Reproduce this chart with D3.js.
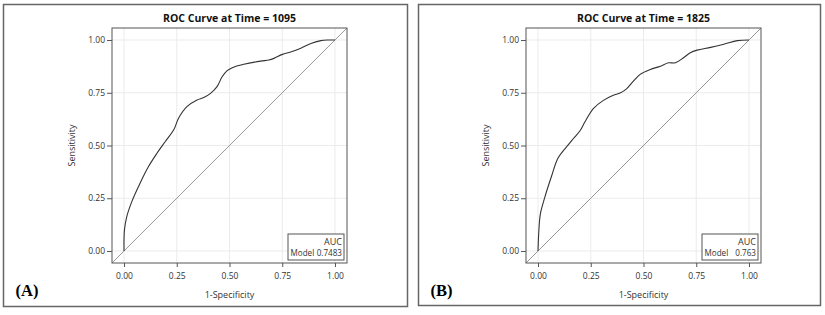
<!DOCTYPE html>
<html>
<head>
<meta charset="utf-8">
<script src="https://cdn.jsdelivr.net/npm/d3@7"></script>
<style>
  body { margin: 0; background: #fff; }
  text { font-family: "Open Sans", sans-serif; fill: #333; }
</style>
</head>
<body>
<div id="plots"></div>
<script>
// window size
var width = 825;
var height = 315;

// ROC data, panel A (time = 1095)
var fprA = [0, 0.002, 0.013, 0.037, 0.076, 0.116, 0.156, 0.195, 0.235, 0.259, 0.298, 0.346, 0.378, 0.41, 0.441, 0.465, 0.489, 0.513, 0.568, 0.648, 0.687, 0.711, 0.751, 0.79, 0.838, 0.886, 0.933, 0.965, 1.0];
var tprA = [0, 0.10, 0.163, 0.234, 0.321, 0.40, 0.463, 0.518, 0.573, 0.630, 0.684, 0.716, 0.727, 0.747, 0.779, 0.826, 0.855, 0.869, 0.885, 0.90, 0.905, 0.913, 0.932, 0.943, 0.961, 0.984, 0.997, 1.0, 1.0];

// ROC data, panel B (time = 1825)
var fprB = [0, 0.003, 0.011, 0.032, 0.064, 0.095, 0.143, 0.167, 0.2, 0.222, 0.262, 0.31, 0.357, 0.389, 0.421, 0.452, 0.484, 0.532, 0.58, 0.619, 0.651, 0.69, 0.722, 0.754, 0.818, 0.881, 0.945, 1.0];
var tprB = [0, 0.079, 0.175, 0.254, 0.354, 0.441, 0.503, 0.532, 0.571, 0.611, 0.675, 0.714, 0.738, 0.749, 0.77, 0.805, 0.837, 0.86, 0.876, 0.892, 0.892, 0.916, 0.94, 0.952, 0.965, 0.98, 0.997, 1.0];

// tick values and labels
var tickValues = [0, 0.25, 0.5, 0.75, 1];
var tickLabels = ["0.00", "0.25", "0.50", "0.75", "1.00"];

// panel texts
var titles = ["ROC Curve at Time = 1095", "ROC Curve at Time = 1825"];
var aucValues = ["0.7483", "0.763"];
var panelTags = ["(A)", "(B)"];

var svg = d3.select("#plots")
  .append("svg")
  .attr("width", width)
  .attr("height", height);

var plotSize = 235;

function drawPanel(i, fpr, tpr, frame, plotLeft, plotTop) {
  var g = svg.append("g");

  // outer panel border
  g.append("rect")
    .attr("x", frame[0]).attr("y", frame[1])
    .attr("width", frame[2]).attr("height", frame[3])
    .attr("fill", "none")
    .attr("stroke", "#666")
    .attr("stroke-width", 1.5);

  var x = d3.scaleLinear().domain([-0.057, 1.057]).range([plotLeft, plotLeft + plotSize]);
  var y = d3.scaleLinear().domain([-0.057, 1.057]).range([plotTop + plotSize, plotTop]);

  // grid
  g.selectAll(".gx").data(tickValues).enter().append("line")
    .attr("x1", function(d) { return x(d); }).attr("x2", function(d) { return x(d); })
    .attr("y1", plotTop).attr("y2", plotTop + plotSize)
    .attr("stroke", "#ebebeb").attr("stroke-width", 1);
  g.selectAll(".gy").data(tickValues).enter().append("line")
    .attr("y1", function(d) { return y(d); }).attr("y2", function(d) { return y(d); })
    .attr("x1", plotLeft).attr("x2", plotLeft + plotSize)
    .attr("stroke", "#ebebeb").attr("stroke-width", 1);

  // axes
  var xAxis = d3.axisBottom(x).tickValues(tickValues)
    .tickFormat(function(d, j) { return tickLabels[j]; })
    .tickSize(4).tickPadding(6);
  var yAxis = d3.axisLeft(y).tickValues(tickValues)
    .tickFormat(function(d, j) { return tickLabels[j]; })
    .tickSize(5).tickPadding(2);

  var gx = g.append("g").attr("transform", "translate(0," + (plotTop + plotSize) + ")").call(xAxis);
  var gy = g.append("g").attr("transform", "translate(" + plotLeft + ",0)").call(yAxis);
  [gx, gy].forEach(function(a) {
    a.select(".domain").remove();
    a.selectAll(".tick line").attr("stroke", "#555");
    a.selectAll(".tick text").attr("font-size", 8.5).attr("fill", "#333");
  });

  // diagonal reference line
  g.append("line")
    .attr("x1", x(-0.057)).attr("y1", y(-0.057))
    .attr("x2", x(1.057)).attr("y2", y(1.057))
    .attr("stroke", "#999").attr("stroke-width", 1);

  // ROC curve
  var pts = fpr.map(function(d, j) { return [d, tpr[j]]; });
  var line = d3.line()
    .x(function(d) { return x(d[0]); })
    .y(function(d) { return y(d[1]); })
    .curve(d3.curveCatmullRom.alpha(0.5));
  g.append("path")
    .datum(pts)
    .attr("d", line)
    .attr("fill", "none")
    .attr("stroke", "#333")
    .attr("stroke-width", 1.1);

  // plot frame
  g.append("rect")
    .attr("x", plotLeft).attr("y", plotTop)
    .attr("width", plotSize).attr("height", plotSize)
    .attr("fill", "none")
    .attr("stroke", "#555")
    .attr("stroke-width", 1);

  // AUC legend box
  var lx = plotLeft + plotSize - 59, ly = plotTop + plotSize - 29;
  g.append("rect")
    .attr("x", lx).attr("y", ly).attr("width", 56).attr("height", 26)
    .attr("fill", "#fff").attr("stroke", "#555").attr("stroke-width", 1);
  g.append("text")
    .text("AUC")
    .attr("x", lx + 54).attr("y", ly + 11)
    .attr("text-anchor", "end")
    .attr("font-size", 9);
  g.append("text")
    .text("Model")
    .attr("x", lx + 2.5).attr("y", ly + 22)
    .attr("font-size", 8.1);
  g.append("text")
    .text(aucValues[i])
    .attr("x", lx + 54).attr("y", ly + 22)
    .attr("text-anchor", "end")
    .attr("font-size", 8.1);

  // title
  g.append("text")
    .text(titles[i])
    .attr("x", plotLeft + plotSize / 2)
    .attr("y", 22)
    .attr("text-anchor", "middle")
    .attr("font-weight", "bold")
    .attr("font-size", 10.5)
    .style("fill", "#111");

  // axis titles
  g.append("text")
    .text("1-Specificity")
    .attr("x", plotLeft + plotSize / 2)
    .attr("y", 298)
    .attr("text-anchor", "middle")
    .attr("font-size", 9);
  g.append("text")
    .text("Sensitivity")
    .attr("transform", "translate(" + (plotLeft - 37) + "," + (plotTop + plotSize / 2) + ") rotate(-90)")
    .attr("text-anchor", "middle")
    .attr("font-size", 9);

  // panel tag
  g.append("text")
    .text(panelTags[i])
    .attr("x", frame[0] + 12)
    .attr("y", 296)
    .style("font-family", "'Liberation Serif', 'Times New Roman', serif")
    .style("fill", "#000")
    .attr("font-weight", "bold")
    .attr("font-size", 16.5);
}

drawPanel(0, fprA, tprA, [3.5, 4.5, 404, 302], 112, 28);
drawPanel(1, fprB, tprB, [418.5, 4.5, 402, 301], 526, 28);
</script>
</body>
</html>
